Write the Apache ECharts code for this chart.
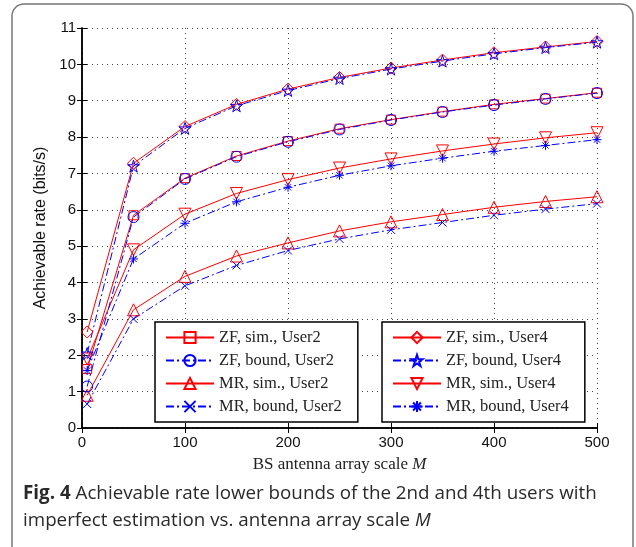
<!DOCTYPE html>
<html>
<head>
<meta charset="utf-8">
<script src="https://cdn.jsdelivr.net/npm/echarts@6/dist/echarts.min.js"></script>
<style>
  html, body { margin: 0; padding: 0; background: #fff; }
  #chart { width: 636px; height: 547px; }
</style>
</head>
<body>
<div id="chart"></div>
<script>
// antenna array scale M
var M = [5, 50, 100, 150, 200, 250, 300, 350, 400, 450, 500];

// achievable rate (bits/s)
var zfSimU2   = [1.62, 5.85, 6.87, 7.48, 7.89, 8.23, 8.48, 8.70, 8.90, 9.06, 9.22];
var zfBoundU2 = [1.14, 5.80, 6.85, 7.46, 7.87, 8.21, 8.47, 8.69, 8.88, 9.05, 9.21];
var mrSimU2   = [0.90, 3.25, 4.17, 4.73, 5.09, 5.42, 5.67, 5.87, 6.07, 6.23, 6.36];
var mrBoundU2 = [0.66, 3.00, 3.91, 4.47, 4.88, 5.20, 5.45, 5.65, 5.85, 6.02, 6.17];
var zfSimU4   = [2.64, 7.28, 8.29, 8.90, 9.32, 9.64, 9.90, 10.12, 10.32, 10.48, 10.63];
var zfBoundU4 = [2.05, 7.20, 8.24, 8.86, 9.28, 9.61, 9.87, 10.09, 10.29, 10.46, 10.61];
var mrSimU4   = [1.90, 4.90, 5.88, 6.45, 6.83, 7.15, 7.40, 7.62, 7.81, 7.98, 8.12];
var mrBoundU4 = [1.58, 4.65, 5.63, 6.22, 6.62, 6.95, 7.21, 7.42, 7.61, 7.77, 7.93];

var RED = '#ff0000', BLUE = '#0000ff';
var DASHDOT = [8, 3, 2, 3];

var STAR = 'path://M50,0L61.8,35.1L98.5,35.1L68.8,56.7L80.2,91.9L50,70.2L19.8,91.9L31.2,56.7L1.5,35.1L38.2,35.1Z';
var CROSS = 'path://M0,0L10,10M10,0L0,10';
var ASTER = 'path://M5,0L5,10M0,5L10,5M1.5,1.5L8.5,8.5M8.5,1.5L1.5,8.5';

function pairs(ys) {
    var out = [];
    for (var i = 0; i < M.length; i++) out.push([M[i], ys[i]]);
    return out;
}

function mk(name, ys, color, dashed, symbol, size, rotate) {
    return {
        name: name,
        type: 'line',
        data: pairs(ys),
        symbol: symbol,
        symbolSize: size,
        symbolRotate: rotate || 0,
        showAllSymbol: true,
        color: color,
        lineStyle: { color: color, width: 1, type: dashed ? DASHDOT : 'solid' },
        itemStyle: { color: 'none', borderColor: color, borderWidth: 1 },
        emphasis: { disabled: true }
    };
}

var namesU2 = ['ZF, sim., User2', 'ZF, bound, User2', 'MR, sim., User2', 'MR, bound, User2'];
var namesU4 = ['ZF, sim., User4', 'ZF, bound, User4', 'MR, sim., User4', 'MR, bound, User4'];

var series = [
    mk(namesU2[0], zfSimU2, RED, false, 'rect', 9),
    mk(namesU2[2], mrSimU2, RED, false, 'triangle', 12),
    mk(namesU4[0], zfSimU4, RED, false, 'diamond', 12),
    mk(namesU4[2], mrSimU4, RED, false, 'triangle', 12, 180),
    mk(namesU2[1], zfBoundU2, BLUE, true, 'circle', 11),
    mk(namesU2[3], mrBoundU2, BLUE, true, CROSS, 8),
    mk(namesU4[1], zfBoundU4, BLUE, true, STAR, 12),
    mk(namesU4[3], mrBoundU4, BLUE, true, ASTER, 9)
];

function legendAt(left, names) {
    return {
        data: names,
        orient: 'vertical',
        left: left,
        top: 322,
        padding: [7, 16, 7, 10],
        itemWidth: 48,
        itemHeight: 14,
        itemGap: 6,
        selectedMode: false,
        backgroundColor: '#fff',
        borderColor: '#000',
        borderWidth: 1.5,
        textStyle: { fontFamily: 'Liberation Serif', fontSize: 16.5, color: '#222' }
    };
}

var SANS = 'Liberation Sans';
var myChart = echarts.init(document.getElementById('chart'));

var option = {
    animation: false,
    backgroundColor: '#fff',
    grid: { left: 82, right: 39, top: 28, bottom: 119, show: false },
    legend: [legendAt(155, namesU2), legendAt(382, namesU4)],
    xAxis: [{
        type: 'value',
        min: 0, max: 500, interval: 100,
        name: 'BS antenna array scale {i|M}',
        nameLocation: 'middle',
        nameGap: 28,
        nameTextStyle: {
            fontFamily: 'Liberation Serif', fontSize: 17, color: '#222',
            rich: { i: { fontFamily: 'Liberation Serif', fontStyle: 'italic', fontSize: 17, color: '#222' } }
        },
        axisLine: { lineStyle: { color: '#000', width: 1.5 } },
        axisTick: { inside: true, length: 5, lineStyle: { color: '#000' } },
        axisLabel: { fontFamily: SANS, fontSize: 15, color: '#111', margin: 7 },
        splitLine: { show: true, lineStyle: { color: '#444', type: [1, 4], width: 1 } }
    }, {
        type: 'value', position: 'top',
        min: 0, max: 500, interval: 100,
        axisLine: { lineStyle: { color: '#000', width: 1.5 } },
        axisTick: { inside: true, length: 5, lineStyle: { color: '#000' } },
        axisLabel: { show: false },
        splitLine: { show: false }
    }],
    yAxis: [{
        type: 'value',
        min: 0, max: 11, interval: 1,
        name: 'Achievable rate (bits/s)',
        nameLocation: 'middle',
        nameGap: 29,
        nameTextStyle: { fontFamily: SANS, fontSize: 16, color: '#111' },
        axisLine: { show: true, lineStyle: { color: '#000', width: 1.5 } },
        axisTick: { show: true, inside: true, length: 5, lineStyle: { color: '#000' } },
        axisLabel: { fontFamily: SANS, fontSize: 15, color: '#111', margin: 6 },
        splitLine: { show: true, lineStyle: { color: '#444', type: [1, 4], width: 1 } }
    }, {
        type: 'value', position: 'right',
        min: 0, max: 11, interval: 1,
        axisLine: { show: true, lineStyle: { color: '#000', width: 1.5 } },
        axisTick: { show: true, inside: true, length: 5, lineStyle: { color: '#000' } },
        axisLabel: { show: false },
        splitLine: { show: false }
    }],
    graphic: [{
        type: 'rect',
        z: -10,
        silent: true,
        shape: { x: 12, y: 4, width: 621, height: 560, r: 12 },
        style: { fill: 'none', stroke: '#777', lineWidth: 1.5 }
    }, {
        type: 'text',
        left: 23,
        top: 480,
        silent: true,
        style: {
            text: '{b|Fig. 4} Achievable rate lower bounds of the 2nd and 4th users with\nimperfect estimation vs. antenna array scale {i|M}',
            fontFamily: 'Open Sans',
            fontSize: 18.8,
            lineHeight: 27,
            fill: '#2a2a2a',
            rich: {
                b: { fontFamily: 'Open Sans', fontWeight: 'bold', fontSize: 18.8, lineHeight: 27, color: '#111' },
                i: { fontFamily: 'Open Sans', fontStyle: 'italic', fontSize: 18.8, lineHeight: 27, color: '#2a2a2a' }
            }
        }
    }],
    series: series
};

myChart.setOption(option);
</script>
</body>
</html>
